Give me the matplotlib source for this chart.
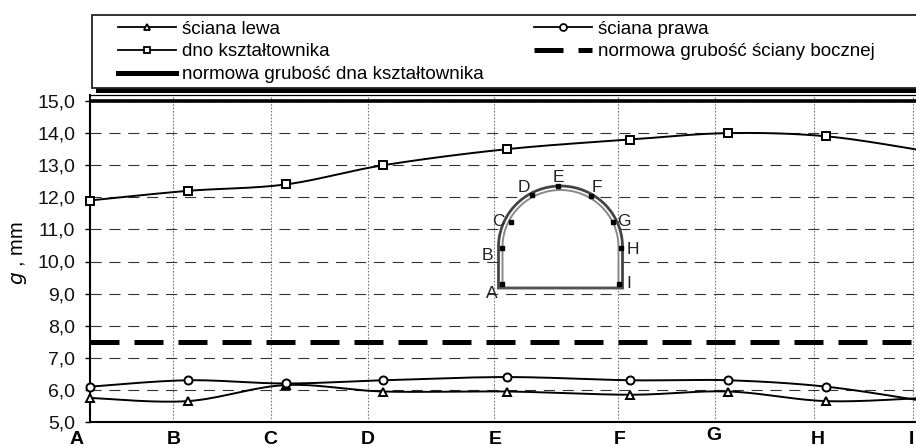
import numpy as np
import matplotlib
matplotlib.use("Agg")
import matplotlib.pyplot as plt
from matplotlib.patches import Rectangle, Polygon

plt.rcParams['font.family'] = ['Liberation Sans', 'DejaVu Sans']

W, H = 916, 446

# section positions along the profile (unequal spacing in the original)
sections = [0, 1, 2, 3, 4.26, 5.52, 6.52, 7.52, 8.52]
section_lines = [0.857, 1.847, 2.84, 4.13, 5.39, 6.38, 7.39, 8.40]
section_names = ['A', 'B', 'C', 'D', 'E', 'F', 'G', 'H', 'I']
name_offsets = [-0.135, 0.857, 1.847, 2.84, 4.14, 5.41, 6.37, 7.43, 8.39]

wall_left = [5.75, 5.65, 6.15, 5.95, 5.95, 5.85, 5.95, 5.65, 5.75]
wall_right = [6.1, 6.3, 6.2, 6.3, 6.4, 6.3, 6.3, 6.1, 5.65]
bottom = [11.9, 12.2, 12.4, 13.0, 13.5, 13.8, 14.0, 13.9, 13.45]
norm_wall = 7.5
norm_bottom = 15.0
y_ticks = [5, 6, 7, 8, 9, 10, 11, 12, 13, 14, 15]

# small tunnel sketch, pixel positions on the page
sketch_pts = [(502, 284), (502, 248), (511, 222), (532, 195), (558, 186),
              (591, 196), (613, 222), (621, 248), (619, 284)]
sketch_lbl = [(492, 294), (487, 255), (498, 222), (524, 188), (558, 177),
              (597, 187), (624, 222), (633, 249), (629, 283)]


def smooth(x, y, n=30):
    # Catmull-Rom, close to what spreadsheet "smoothed line" does
    x = np.asarray(x, float)
    y = np.asarray(y, float)
    px = np.r_[x[0], x, x[-1]]
    py = np.r_[y[0], y, y[-1]]
    out_x, out_y = [], []
    for i in range(1, len(px) - 2):
        t = np.linspace(0, 1, n)[:, None]
        p = [np.array([px[j], py[j]]) for j in range(i - 1, i + 3)]
        c = 0.5 * (2 * p[1] + (p[2] - p[0]) * t
                   + (2 * p[0] - 5 * p[1] + 4 * p[2] - p[3]) * t ** 2
                   + (3 * p[1] - p[0] - 3 * p[2] + p[3]) * t ** 3)
        out_x.extend(c[:, 0])
        out_y.extend(c[:, 1])
    return out_x, out_y


def arch(cx, cy, rx, ry, base):
    a = np.linspace(np.pi, 0, 80)
    xs = np.r_[cx - rx, cx + rx * np.cos(a), cx + rx]
    ys = np.r_[base, cy - ry * np.sin(a), base]
    return xs, ys


fig = plt.figure(figsize=(W / 100, H / 100), dpi=100)
ax = fig.add_axes([89.5 / W, 1 - 422 / H, (W - 89.5) / W, (422 - 95) / H])
ax.set_xlim(0, (W - 89.5) / 98)
ax.set_ylim(5, 15 + 6 / 32.1)

ax.set_yticks(y_ticks)
ax.set_yticklabels(['%d,0' % v for v in y_ticks], fontsize=14, color='#111111')
ax.set_xticks(section_lines)
ax.set_xticklabels([])
ax.tick_params(axis='x', length=0)
ax.tick_params(axis='y', length=3.6, width=1, pad=6.8)
ax.grid(axis='y', color='#333333', lw=0.8, ls=(0, (10, 7)))
ax.grid(axis='x', color='#777777', lw=0.8, ls=(0, (1.5, 1.5)))
ax.set_axisbelow(True)
ax.spines['right'].set_visible(False)
ax.spines['left'].set_linewidth(1.5)
ax.spines['bottom'].set_linewidth(1.5)
ax.spines['top'].set_linewidth(0.9)

ax.set_ylabel(r'$\mathit{g}$ , mm', fontsize=14.5, labelpad=3)
ax.yaxis.set_label_coords(-60 / (W - 89.5), 0.517)

for name, off in zip(section_names, name_offsets):
    dy = 3 if name == 'G' else 0
    ax.annotate(name, (off, 5), xycoords=('data', 'data'), xytext=(0, -17 + dy),
                textcoords='offset pixels', ha='center', va='center',
                fontsize=14, fontweight='bold', annotation_clip=False)

mk = dict(ms=5.8, mfc='white', mec='black', mew=1.4, ls='none', clip_on=False, zorder=5)
series = [(wall_left, '^'), (wall_right, 'o'), (bottom, 's')]
for vals, m in series:
    sx, sy = smooth(sections, vals)
    ax.plot(sx, sy, color='black', lw=1.4, zorder=4)
    ax.plot(sections, vals, marker=m, **mk)

ax.axhline(norm_wall, color='black', lw=3.6, ls=(0, (5.8, 3.0)), zorder=3)
ax.axhline(norm_bottom, color='black', lw=2.6, zorder=3)

# overlay in page pixels for the legend box and the sketch
ov = fig.add_axes([0, 0, 1, 1], zorder=10)
ov.set_xlim(0, W)
ov.set_ylim(H, 0)
ov.axis('off')

ov.add_patch(Rectangle((96, 18), W, 75, fc='black', ec='none'))
ov.add_patch(Rectangle((92, 14.5), W, 73, fc='white', ec='#222222', lw=1.3))

h1, = ov.plot([], [], 'k-', lw=1.3, marker='^', ms=5, mfc='white', mew=1.3)
h2, = ov.plot([], [], 'k-', lw=1.3, marker='s', ms=5, mfc='white', mew=1.3)
h3, = ov.plot([], [], 'k-', lw=3.6)
h4, = ov.plot([], [], 'k-', lw=1.3, marker='o', ms=5, mfc='white', mew=1.3)
h5, = ov.plot([], [], 'k-', lw=3.6, ls=(0, (5.8, 3.0)))
labels = ['ściana lewa', 'dno kształtownika', 'normowa grubość dna kształtownika',
          'ściana prawa', 'normowa grubość ściany bocznej']
ov.legend([h1, h2, h3, h4, h5], labels, ncols=2, frameon=False, fontsize=13.5,
          loc='upper left', bbox_to_anchor=(118 / W, 1 - 20.5 / H), borderpad=0, borderaxespad=0,
          handlelength=3.1, handletextpad=0.3, labelspacing=0.3, columnspacing=2.7)

# tunnel sketch
xs, ys = arch(560.5, 247, 62, 61, 288)
ov.add_patch(Polygon(np.c_[xs, ys], closed=True, fc='white', ec='#444444', lw=2.0))
xs2, ys2 = arch(560.5, 247, 58, 57, 288)
ov.plot(xs2, ys2, color='#888888', lw=1.4)
ov.plot([499, 622.5], [288, 288], color='#555555', lw=1.2)
ov.plot(*zip(*sketch_pts), 's', color='black', ms=3, ls='none')
for name, (lx, ly) in zip(section_names, sketch_lbl):
    ov.text(lx, ly, name, ha='center', va='center', fontsize=12.5, color='#222222')

fig.savefig('out.png', dpi=100)
